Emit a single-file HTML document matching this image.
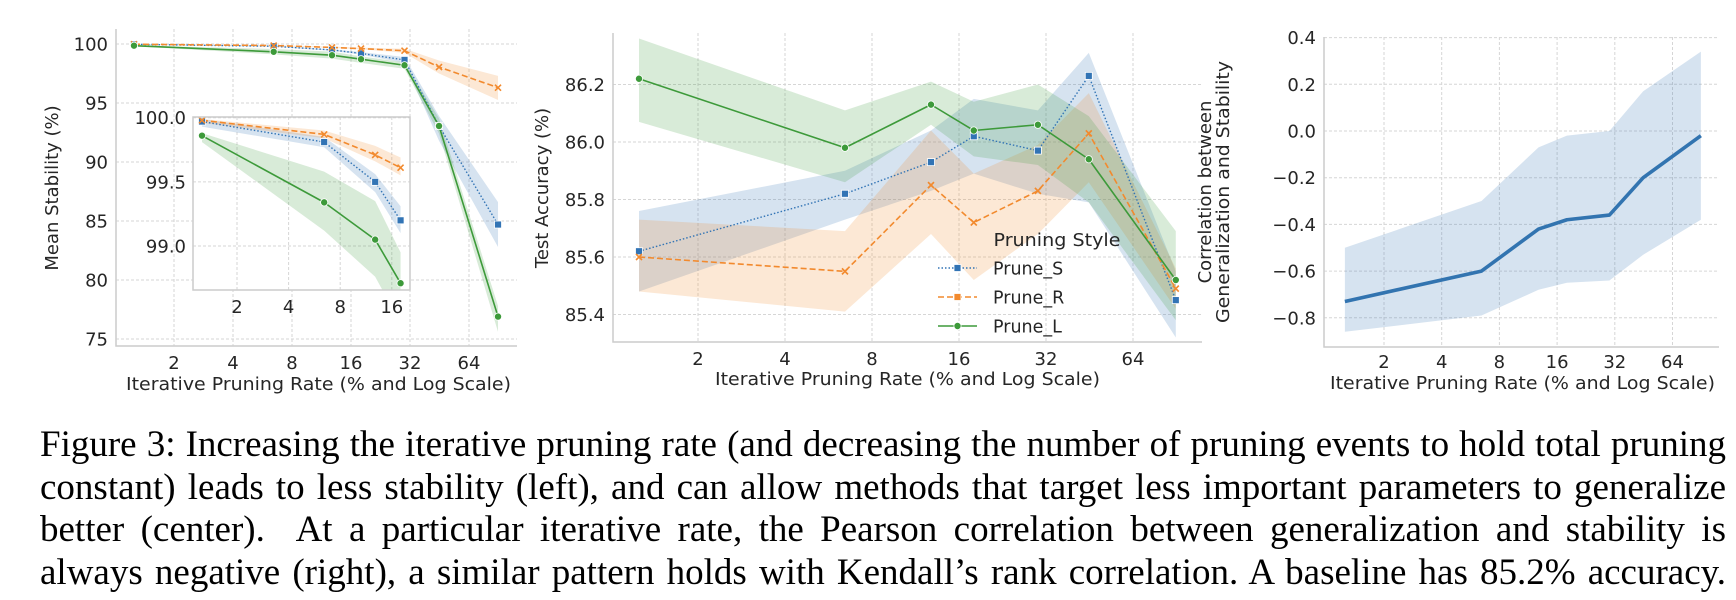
<!DOCTYPE html>
<html><head><meta charset="utf-8">
<style>
html,body{margin:0;padding:0;background:#fff;}
#wrap{position:relative;width:1736px;height:600px;overflow:hidden;}
svg text{font-family:"DejaVu Sans","Liberation Sans",sans-serif;fill:#262626;}
#caption{position:absolute;left:40px;top:424px;width:1686px;font-family:"Liberation Serif",serif;font-size:37px;line-height:42.7px;color:#000;}
#caption div{text-align:justify;text-align-last:justify;white-space:nowrap;}
</style></head>
<body>
<div id="wrap">
<svg id="fig" width="1736" height="400" viewBox="0 0 1736 400" style="position:absolute;left:0;top:0"></svg>
<div id="caption">
<div>Figure 3: Increasing the iterative pruning rate (and decreasing the number of pruning events to hold total pruning</div>
<div>constant) leads to less stability (left), and can allow methods that target less important parameters to generalize</div>
<div>better (center).&nbsp; At a particular iterative rate, the Pearson correlation between generalization and stability is</div>
<div>always negative (right), a similar pattern holds with Kendall’s rank correlation. A baseline has 85.2% accuracy.</div>
</div>
</div>
<script>
// shared x categories: iterative pruning rate (%)
const rates = [1.25, 6.45, 12.8, 18, 30, 45, 90];
const xTicks = [2, 4, 8, 16, 32, 64];
const seriesNames = ["Prune_S", "Prune_R", "Prune_L"];

// left: mean stability
const stabS = [99.97, 99.81, 99.5, 99.2, 98.65, 93.05, 84.7];
const stabSLo = [99.93, 99.77, 99.42, 99.1, 98.4, 91.8, 82.8];
const stabSHi = [99.99, 99.85, 99.56, 99.31, 98.9, 93.9, 86.6];
const stabR = [99.98, 99.87, 99.71, 99.61, 99.43, 98.05, 96.3];
const stabRLo = [99.96, 99.84, 99.66, 99.55, 99.25, 97.5, 95.25];
const stabRHi = [99.99, 99.9, 99.78, 99.69, 99.6, 98.6, 97.3];
const stabL = [99.86, 99.34, 99.05, 98.71, 98.2, 93.05, 76.9];
const stabLLo = [99.81, 99.12, 98.76, 98.4, 97.9, 92.4, 75.6];
const stabLHi = [99.88, 99.58, 99.35, 98.95, 98.45, 93.7, 77.8];
const stabTicks = [75, 80, 85, 90, 95, 100];
const insetTicks = ["99.0", "99.5", "100.0"];
const insetXTicks = [2, 4, 8, 16];

// center: test accuracy
const accS = [85.62, 85.82, 85.93, 86.02, 85.97, 86.23, 85.45];
const accSLo = [85.48, 85.73, 85.83, 85.89, 85.82, 85.79, 85.32];
const accSHi = [85.76, 85.9, 86.04, 86.15, 86.11, 86.31, 85.55];
const accR = [85.6, 85.55, 85.85, 85.72, 85.83, 86.03, 85.49];
const accRLo = [85.48, 85.41, 85.68, 85.52, 85.68, 85.86, 85.42];
const accRHi = [85.73, 85.69, 86.04, 85.89, 85.99, 86.17, 85.56];
const accL = [86.22, 85.98, 86.13, 86.04, 86.06, 85.94, 85.52];
const accLLo = [86.07, 85.86, 86.06, 85.95, 85.92, 85.79, 85.38];
const accLHi = [86.36, 86.11, 86.21, 86.14, 86.2, 86.09, 85.69];
const accTicks = ["85.4", "85.6", "85.8", "86.0", "86.2"];

// right: correlation
const corr = [-0.73, -0.6, -0.42, -0.38, -0.36, -0.2, -0.02];
const corrLo = [-0.86, -0.79, -0.68, -0.65, -0.64, -0.53, -0.38];
const corrHi = [-0.5, -0.3, -0.07, -0.02, 0.0, 0.17, 0.34];
const corrTicks = ["−0.8", "−0.6", "−0.4", "−0.2", "0.0", "0.2", "0.4"];

const NS = "http://www.w3.org/2000/svg";
const svg = document.getElementById("fig");
const COL = {S: "#3274b5", R: "#f28a2e", L: "#3d9a3a"};
function mk(tag, attrs, parent) {
  const e = document.createElementNS(NS, tag);
  for (const k in attrs) e.setAttribute(k, attrs[k]);
  (parent || svg).appendChild(e);
  return e;
}
function makeAxes(o) {
  o.X = r => o.x2 + (Math.log2(r) - 1) * o.step;
  return o;
}
function xTicksFor(ax) { return ax.xt || xTicks; }
function grid(ax, yvals, g) {
  xTicksFor(ax).forEach(t => {
    const l = mk("line", {x1: ax.X(t), x2: ax.X(t), y1: ax.y0, y2: ax.y1, stroke: "#d6d6d6", "stroke-width": 1, "stroke-dasharray": "3,2"}, g);
    
    
  });
  yvals.forEach(v => {
    const l = mk("line", {x1: ax.x0, x2: ax.x1, y1: ax.Y(v), y2: ax.Y(v), stroke: "#d6d6d6", "stroke-width": 1, "stroke-dasharray": "3,2"}, g);
    
    
  });
}
function spines(ax, g, full) {
  const s = mk("path", {d: full ? `M${ax.x0},${ax.y0}H${ax.x1}V${ax.y1}H${ax.x0}Z` : `M${ax.x0},${ax.y0}V${ax.y1}H${ax.x1}`, fill: "none", stroke: "#cccccc", "stroke-width": 1.5}, g);
  
  
}
function tickLabels(ax, yvals, ylabels, g, fs, xty) {
  xTicksFor(ax).forEach(t => {
    const tx = mk("text", {x: ax.X(t), y: xty, "text-anchor": "middle", "font-size": fs}, g);
    tx.textContent = t;
    
    
  });
  yvals.forEach((v, i) => {
    const tx = mk("text", {x: ax.lx, y: ax.Y(v) + fs * 0.36, "text-anchor": "end", "font-size": fs}, g);
    tx.textContent = ylabels[i];
    
    
  });
}
function band(ax, lo, hi, color, g, name, n) {
  n = n || rates.length;
  let d = "";
  for (let i = 0; i < n; i++) d += (i ? "L" : "M") + ax.X(rates[i]) + "," + ax.Y(hi[i]);
  for (let i = n - 1; i >= 0; i--) d += "L" + ax.X(rates[i]) + "," + ax.Y(lo[i]);
  const p = mk("path", {d: d + "Z", fill: color, "fill-opacity": 0.2, stroke: "none"}, g);
  
  
}
function line(ax, vals, color, dash, width, g, name, n) {
  n = n || rates.length;
  let d = "";
  for (let i = 0; i < n; i++) d += (i ? "L" : "M") + ax.X(rates[i]) + "," + ax.Y(vals[i]);
  const a = {d: d, fill: "none", stroke: color, "stroke-width": width, "stroke-linejoin": "round"};
  if (dash) a["stroke-dasharray"] = dash;
  const p = mk("path", a, g);
  
  
}
function marker(kind, x, y, color, g, name) {
  let m;
  if (kind === "S") m = mk("rect", {x: x - 3.5, y: y - 3.5, width: 7, height: 7, fill: color, stroke: "#fff", "stroke-width": 0.8}, g);
  else if (kind === "L") m = mk("circle", {cx: x, cy: y, r: 3.6, fill: color, stroke: "#fff", "stroke-width": 0.8}, g);
  else m = mk("path", {d: `M${x-3},${y-3}L${x+3},${y+3}M${x-3},${y+3}L${x+3},${y-3}`, stroke: color, "stroke-width": 1.6}, g);
  
  
}
function markers(ax, vals, kind, color, g, name, n) {
  n = n || rates.length;
  for (let i = 0; i < n; i++) marker(kind, ax.X(rates[i]), ax.Y(vals[i]), color, g, name);
}
function title(x, y, txt, g, name, fs, rot, len) {
  const a = {x: x, y: y, "text-anchor": "middle", "font-size": fs};
  if (rot) a.transform = `rotate(-90 ${x} ${y})`;
  if (len) { a.textLength = len; a.lengthAdjust = "spacingAndGlyphs"; }
  const t = mk("text", a, g);
  t.textContent = txt;
  
  
}
function group(name) {
  const g = mk("g", {});
  
  
  return g;
}
const XT = "Iterative Pruning Rate (% and Log Scale)";

// ---------- LEFT ----------
{
  const g = group("stability-chart");
  const ax = makeAxes({x0: 116, x1: 517, y0: 29, y1: 346, x2: 174, step: 59, lx: 108});
  ax.Y = v => 44 + (100 - v) * 11.8;
  grid(ax, stabTicks, g);
  band(ax, stabSLo, stabSHi, COL.S, g, "band-prune-s");
  band(ax, stabRLo, stabRHi, COL.R, g, "band-prune-r");
  band(ax, stabLLo, stabLHi, COL.L, g, "band-prune-l");
  line(ax, stabS, COL.S, "1.5,2", 1.4, g, "line-prune-s");
  line(ax, stabR, COL.R, "6,3", 1.6, g, "line-prune-r");
  line(ax, stabL, COL.L, null, 1.6, g, "line-prune-l");
  markers(ax, stabS, "S", COL.S, g, "point-prune-s");
  markers(ax, stabR, "R", COL.R, g, "point-prune-r");
  markers(ax, stabL, "L", COL.L, g, "point-prune-l");
  spines(ax, g);
  tickLabels(ax, stabTicks, stabTicks.map(String), g, 18, 369);
  title(58, 188, "Mean Stability (%)", g, "y-axis-title", 18, true);
  title(ax.x0 + (ax.x1 - ax.x0) / 2 + 2, 390, XT, g, "x-axis-title", 17.5, false, 385);

  // inset
  const gi = group("stability-inset");
  const ia = makeAxes({x0: 193, x1: 410, y0: 117, y1: 290, x2: 237, step: 51.6, lx: 186, xt: insetXTicks});
  ia.Y = v => 117.7 + (100 - v) * 128.3;
  const bg = mk("rect", {x: 193, y: 117, width: 217, height: 173, fill: "#fff"}, gi);
  
  
  const cp = mk("clipPath", {id: "ic"}, gi);
  mk("rect", {x: 193, y: 117, width: 217, height: 173}, cp);
  const gc = mk("g", {"clip-path": "url(#ic)"}, gi);
  const insetVals = insetTicks.map(Number);
  grid(ia, insetVals, gc);
  band(ia, stabSLo, stabSHi, COL.S, gc, "inset-band-prune-s", 4);
  band(ia, stabRLo, stabRHi, COL.R, gc, "inset-band-prune-r", 4);
  band(ia, stabLLo, stabLHi, COL.L, gc, "inset-band-prune-l", 4);
  line(ia, stabS, COL.S, "1.5,2", 1.4, gc, "inset-line-prune-s", 4);
  line(ia, stabR, COL.R, "6,3", 1.6, gc, "inset-line-prune-r", 4);
  line(ia, stabL, COL.L, null, 1.6, gc, "inset-line-prune-l", 4);
  markers(ia, stabS, "S", COL.S, gc, "inset-point-prune-s", 4);
  markers(ia, stabR, "R", COL.R, gc, "inset-point-prune-r", 4);
  markers(ia, stabL, "L", COL.L, gc, "inset-point-prune-l", 4);
  spines(ia, gi, true);
  tickLabels(ia, insetVals, insetTicks, gi, 18, 313);
}

// ---------- CENTER ----------
{
  const g = group("accuracy-chart");
  const ax = makeAxes({x0: 613, x1: 1202, y0: 33, y1: 342, x2: 698, step: 87, lx: 605});
  ax.Y = v => 142 - (v - 86) * 287.5;
  const yv = accTicks.map(Number);
  grid(ax, yv, g);
  band(ax, accSLo, accSHi, COL.S, g, "band-prune-s");
  band(ax, accRLo, accRHi, COL.R, g, "band-prune-r");
  band(ax, accLLo, accLHi, COL.L, g, "band-prune-l");
  line(ax, accS, COL.S, "1.5,2", 1.4, g, "line-prune-s");
  line(ax, accR, COL.R, "6,3", 1.6, g, "line-prune-r");
  line(ax, accL, COL.L, null, 1.6, g, "line-prune-l");
  markers(ax, accS, "S", COL.S, g, "point-prune-s");
  markers(ax, accR, "R", COL.R, g, "point-prune-r");
  markers(ax, accL, "L", COL.L, g, "point-prune-l");
  spines(ax, g);
  tickLabels(ax, yv, accTicks, g, 18, 365);
  title(548, 188, "Test Accuracy (%)", g, "y-axis-title", 18, true);
  title(ax.x0 + (ax.x1 - ax.x0) / 2, 385, XT, g, "x-axis-title", 17.5, false, 385);

  // legend
  const lg = group("legend");
  title(1057, 246, "Pruning Style", lg, "legend-title", 17.5, false, 127);
  const kinds = ["S", "R", "L"], dashes = ["1.5,2", "6,3", null], ys = [268, 297, 326];
  seriesNames.forEach((nm, i) => {
    const e = mk("g", {}, lg);
    
    
    const a = {x1: 938, x2: 977, y1: ys[i], y2: ys[i], stroke: COL[kinds[i]], "stroke-width": 1.6};
    if (dashes[i]) a["stroke-dasharray"] = dashes[i];
    const l = mk("line", a, e);
    
    
    marker(kinds[i] === "R" ? "S" : kinds[i], 957.5, ys[i], COL[kinds[i]], e, "legend-marker");
    const t = mk("text", {x: 993, y: ys[i] + 6.5, "font-size": 17.5}, e);
    t.textContent = nm;
    
    
  });
}

// ---------- RIGHT ----------
{
  const g = group("correlation-chart");
  const ax = makeAxes({x0: 1324, x1: 1719, y0: 37, y1: 347, x2: 1384, step: 57.7, lx: 1316});
  ax.Y = v => 131 - v * 233.5;
  const yv = corrTicks.map(s => Number(s.replace("−", "-")));
  grid(ax, yv, g);
  band(ax, corrLo, corrHi, COL.S, g, "band-correlation");
  line(ax, corr, "#3274b0", null, 3.6, g, "line-correlation");
  spines(ax, g);
  tickLabels(ax, yv, corrTicks, g, 18, 368);
  title(1211, 192, "Correlation between", g, "y-axis-title-line1", 18, true);
  title(1229, 192, "Generalization and Stability", g, "y-axis-title-line2", 18, true, 262);
  title(ax.x0 + (ax.x1 - ax.x0) / 2 + 1, 389, XT, g, "x-axis-title", 17.5, false, 385);
}
</script>
</body></html>
